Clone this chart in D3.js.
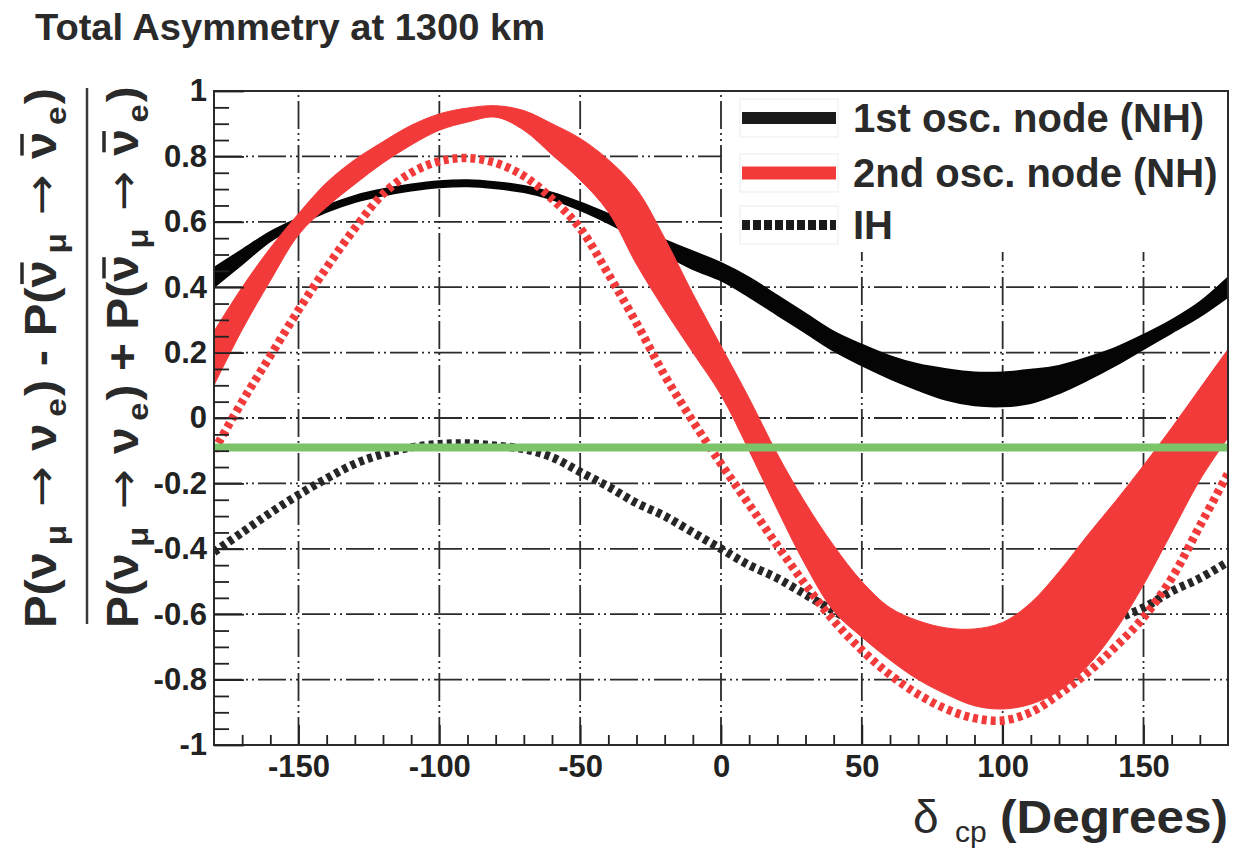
<!DOCTYPE html>
<html>
<head>
<meta charset="utf-8">
<script src="https://cdn.jsdelivr.net/npm/d3@7"></script>
<style>
  html, body { margin: 0; padding: 0; background: #ffffff; }
  svg { display: block; }
  text { font-family: "Liberation Sans", Arial, Helvetica, sans-serif; }
</style>
</head>
<body>
<svg id="chart" width="1234" height="848"></svg>
<script>
// delta_CP grid (degrees)
const delta = [-180,-170,-160,-150,-140,-130,-120,-110,-100,-90,-80,-70,-60,-50,-40,-30,-20,-10,0,
               10,20,30,40,50,60,70,80,90,100,110,120,130,140,150,160,170,180];

// 1st oscillation node (NH): asymmetry band, upper / lower edge
const firstNodeUpper = [0.46,0.515,0.57,0.612,0.65,0.68,0.70,0.715,0.725,0.728,0.722,0.71,0.69,0.66,0.625,0.59,0.545,0.51,0.475,
                        0.43,0.375,0.32,0.265,0.225,0.19,0.165,0.15,0.14,0.14,0.148,0.16,0.185,0.215,0.255,0.30,0.355,0.43];
const firstNodeLower = [0.40,0.47,0.54,0.59,0.63,0.66,0.68,0.695,0.705,0.708,0.702,0.69,0.668,0.635,0.595,0.55,0.50,0.455,0.42,
                        0.37,0.315,0.26,0.205,0.16,0.12,0.085,0.055,0.038,0.035,0.045,0.075,0.115,0.16,0.21,0.26,0.31,0.37];

// 2nd oscillation node (NH): asymmetry band, upper / lower edge
const secondNodeUpper = [0.265,0.40,0.52,0.625,0.72,0.79,0.845,0.895,0.93,0.948,0.955,0.94,0.90,0.855,0.79,0.70,0.55,0.38,0.22,
                         0.06,-0.11,-0.26,-0.39,-0.50,-0.58,-0.62,-0.642,-0.645,-0.625,-0.565,-0.47,-0.36,-0.255,-0.145,-0.03,0.09,0.21];
const secondNodeLower = [0.10,0.27,0.42,0.56,0.645,0.715,0.78,0.835,0.88,0.905,0.92,0.88,0.805,0.728,0.63,0.47,0.33,0.20,0.07,
                         -0.10,-0.28,-0.45,-0.59,-0.67,-0.74,-0.80,-0.845,-0.88,-0.89,-0.875,-0.835,-0.76,-0.65,-0.51,-0.35,-0.19,-0.06];

// Inverted hierarchy curves
const firstNodeIH  = [-0.41,-0.35,-0.29,-0.235,-0.185,-0.14,-0.11,-0.09,-0.08,-0.078,-0.085,-0.095,-0.12,-0.165,-0.21,-0.26,-0.30,-0.35,-0.40,
                      -0.45,-0.49,-0.54,-0.59,-0.635,-0.66,-0.68,-0.695,-0.70,-0.70,-0.69,-0.675,-0.645,-0.615,-0.58,-0.53,-0.49,-0.44];
const secondNodeIH = [-0.10,0.05,0.19,0.33,0.46,0.58,0.685,0.75,0.785,0.795,0.78,0.74,0.67,0.58,0.44,0.29,0.13,-0.01,-0.14,
                      -0.265,-0.39,-0.51,-0.62,-0.71,-0.785,-0.845,-0.89,-0.918,-0.925,-0.90,-0.845,-0.78,-0.70,-0.61,-0.49,-0.33,-0.17];

// Horizontal reference level
const referenceLevel = -0.09;

// Axis ticks
const xTicks = [-150,-100,-50,0,50,100,150];
const xMinorTicks = [-170,-160,-140,-130,-120,-110,-90,-80,-70,-60,-40,-30,-20,-10,10,20,30,40,60,70,80,90,110,120,130,140,160,170];
const yTicks = [-1,-0.8,-0.6,-0.4,-0.2,0,0.2,0.4,0.6,0.8,1];
const yMinorTicks = [-0.95,-0.9,-0.85,-0.75,-0.7,-0.65,-0.55,-0.5,-0.45,-0.35,-0.3,-0.25,-0.15,-0.1,-0.05,
                     0.05,0.1,0.15,0.25,0.3,0.35,0.45,0.5,0.55,0.65,0.7,0.75,0.85,0.9,0.95];

const legendLabels = ["1st osc. node (NH)", "2nd osc. node (NH)", "IH"];
const titleText = "Total Asymmetry at 1300 km";

// ---------------------------------------------------------------
const svg = d3.select("#chart");
const x = d3.scaleLinear().domain([-180, 180]).range([214, 1228]);
const y = d3.scaleLinear().domain([-1, 1]).range([745, 91]);

const INK = "#222222";
const RED = "#f33a3a";
const GREEN = "#7cc46a";

function fitWidth(sel, w) {
  sel.attr("textLength", w).attr("lengthAdjust", "spacingAndGlyphs");
}

// grid (dash-dot-dot)
const grid = svg.append("g")
  .attr("stroke", "#2b2b2b").attr("stroke-width", 1.8)
  .attr("stroke-dasharray", "28,4,2,4,2,4").attr("fill", "none");
grid.selectAll("line.gx").data(xTicks).join("line").attr("class", "gx")
  .attr("x1", d => x(d)).attr("x2", d => x(d))
  .attr("y1", y(-1)).attr("y2", y(1));
grid.selectAll("line.gy").data(yTicks.filter(v => v > -1 && v < 1)).join("line").attr("class", "gy")
  .attr("x1", x(-180)).attr("x2", x(180))
  .attr("y1", d => y(d)).attr("y2", d => y(d));

// legend background hides the grid behind it
svg.append("rect").attr("x", 722).attr("y", 92).attr("width", 505).attr("height", 160).attr("fill", "#ffffff");

const curve = d3.curveCatmullRom.alpha(0.5);
const pts = a => delta.map((d, i) => [d, a[i]]);
const line = d3.line().x(p => x(p[0])).y(p => y(p[1])).curve(curve);
const band = (up, lo) => d3.area()
  .x(d => x(d)).y0((d, i) => y(lo[i])).y1((d, i) => y(up[i]))
  .curve(curve)(delta);

const plot = svg.append("g");
plot.append("clipPath").attr("id", "frameClip")
  .append("rect").attr("x", x(-180)).attr("y", y(1)).attr("width", x(180) - x(-180)).attr("height", y(-1) - y(1));
const curves = plot.append("g").attr("clip-path", "url(#frameClip)");

// IH, 1st node
curves.append("path").attr("d", line(pts(firstNodeIH)))
  .attr("fill", "none").attr("stroke", "#262626").attr("stroke-width", 8.5).attr("stroke-dasharray", "5,4");
// NH, 1st node band
curves.append("path").attr("d", band(firstNodeUpper, firstNodeLower))
  .attr("fill", "#050505").attr("stroke", "#050505").attr("stroke-width", 1.5);
// IH, 2nd node
curves.append("path").attr("d", line(pts(secondNodeIH)))
  .attr("fill", "none").attr("stroke", RED).attr("stroke-width", 8.5).attr("stroke-dasharray", "5,4");
// NH, 2nd node band
curves.append("path").attr("d", band(secondNodeUpper, secondNodeLower))
  .attr("fill", RED).attr("stroke", RED).attr("stroke-width", 1);
// reference level
curves.append("line")
  .attr("x1", x(-180)).attr("x2", x(180))
  .attr("y1", y(referenceLevel)).attr("y2", y(referenceLevel))
  .attr("stroke", GREEN).attr("stroke-width", 8);

// frame
svg.append("rect")
  .attr("x", x(-180)).attr("y", y(1)).attr("width", x(180) - x(-180)).attr("height", y(-1) - y(1))
  .attr("fill", "none").attr("stroke", "#2b2b2b").attr("stroke-width", 2);

// axes
function styleAxis(g) {
  g.select(".domain").remove();
  g.selectAll(".tick line").attr("stroke", INK).attr("stroke-width", 1.8);
  g.selectAll(".tick text").attr("fill", INK).attr("font-size", 31).attr("font-weight", "bold")
    .attr("font-family", '"Liberation Sans", Arial, sans-serif');
}
const xAxisG = svg.append("g").attr("transform", `translate(0,${y(-1)})`)
  .call(d3.axisBottom(x).tickValues(xTicks).tickSizeInner(-20).tickSizeOuter(0).tickPadding(10)
    .tickFormat(d => String(d)));
styleAxis(xAxisG);
const xMinorG = svg.append("g").attr("transform", `translate(0,${y(-1)})`)
  .call(d3.axisBottom(x).tickValues(xMinorTicks).tickSizeInner(-10).tickSizeOuter(0).tickFormat(() => ""));
styleAxis(xMinorG);

const yAxisG = svg.append("g").attr("transform", `translate(${x(-180)},0)`)
  .call(d3.axisLeft(y).tickValues(yTicks).tickSizeInner(-30).tickSizeOuter(0).tickPadding(7)
    .tickFormat(d => d === 0 ? "0" : String(+d.toFixed(1))));
styleAxis(yAxisG);
const yMinorG = svg.append("g").attr("transform", `translate(${x(-180)},0)`)
  .call(d3.axisLeft(y).tickValues(yMinorTicks).tickSizeInner(-15).tickSizeOuter(0).tickFormat(() => ""));
styleAxis(yMinorG);

// title
svg.append("text").attr("x", 35).attr("y", 40).attr("font-size", 37.5).attr("font-weight", "bold")
  .attr("fill", "#2a2a2a").text(titleText).call(fitWidth, 510);

// legend
const legendY = [118, 173, 225];
const leg = svg.append("g");
legendY.forEach(ly => {
  leg.append("rect").attr("x", 740).attr("y", ly - 19).attr("width", 98).attr("height", 38)
    .attr("fill", "none").attr("stroke", "#ececec").attr("stroke-width", 1);
});
leg.append("line").attr("x1", 742).attr("x2", 836).attr("y1", legendY[0]).attr("y2", legendY[0])
  .attr("stroke", "#1a1a1a").attr("stroke-width", 12);
leg.append("line").attr("x1", 742).attr("x2", 836).attr("y1", legendY[1]).attr("y2", legendY[1])
  .attr("stroke", RED).attr("stroke-width", 13);
leg.append("line").attr("x1", 742).attr("x2", 836).attr("y1", legendY[2]).attr("y2", legendY[2])
  .attr("stroke", "#1a1a1a").attr("stroke-width", 10).attr("stroke-dasharray", "8,3");
leg.selectAll("text").data(legendLabels).join("text")
  .attr("x", 853).attr("y", (d, i) => legendY[i] + 14)
  .attr("font-size", 40).attr("font-weight", "bold").attr("fill", "#2a2a2a")
  .text(d => d);

// x-axis title: δ_cp (Degrees)
const xt = svg.append("text").attr("fill", "#2a2a2a").attr("y", 833);
xt.append("tspan").attr("x", 913).attr("font-size", 46).text("δ");
xt.append("tspan").attr("x", 955).attr("dy", 9).attr("font-size", 30).text("cp");
xt.append("tspan").attr("x", 1000).attr("dy", -9).attr("font-size", 46).attr("font-weight", "bold").text("(Degrees)")
  .call(fitWidth, 228);

// y-axis title: asymmetry fraction, rotated; antineutrinos get an overbar
function fractionPart(op, box) {
  const g = svg.append("g");
  const t = g.append("text").attr("font-size", 44).attr("font-weight", "bold").attr("fill", "#2a2a2a");
  const barred = [];
  const sub = s => t.append("tspan").attr("dx", 6).attr("dy", 10).attr("font-size", 30).text(s);
  const main = (s, dx) => t.append("tspan").attr("dy", -10).attr("dx", dx || 0).text(s);
  const arrow = () => t.append("tspan").attr("dy", -10).attr("dx", 2)
    .attr("font-family", '"DejaVu Sans", sans-serif').attr("font-weight", "normal")
    .attr("xml:space", "preserve").text("\u00a0→\u00a0");
  t.append("tspan").text("P(ν");
  sub("μ");
  arrow();
  t.append("tspan").text("ν");
  sub("e");
  main(") " + op + " P(", 2);
  barred.push(t.append("tspan").text("ν"));
  sub("μ");
  arrow();
  barred.push(t.append("tspan").text("ν"));
  sub("e");
  main(")", 2);
  barred.forEach(sp => {
    const b = sp.node().getBBox();
    g.append("line").attr("x1", b.x + 3).attr("x2", b.x + b.width - 2)
      .attr("y1", b.y + 6).attr("y2", b.y + 6)
      .attr("stroke", "#2a2a2a").attr("stroke-width", 3.5);
  });
  const bb = g.node().getBBox();
  const sx = (box.y1 - box.y0) / bb.width;
  const sy = (box.x1 - box.x0) / bb.height;
  const tx = box.x0 - sy * bb.y;
  const ty = box.y1 + sx * bb.x;
  g.attr("transform", `translate(${tx},${ty}) rotate(-90) scale(${sx},${sy})`);
}
fractionPart("-", {x0: 15, x1: 72, y0: 88, y1: 628});
fractionPart("+", {x0: 97, x1: 154, y0: 86, y1: 628});
svg.append("line").attr("x1", 87).attr("x2", 87).attr("y1", 88).attr("y2", 624)
  .attr("stroke", "#3a3a3a").attr("stroke-width", 2.5);
</script>
</body>
</html>
